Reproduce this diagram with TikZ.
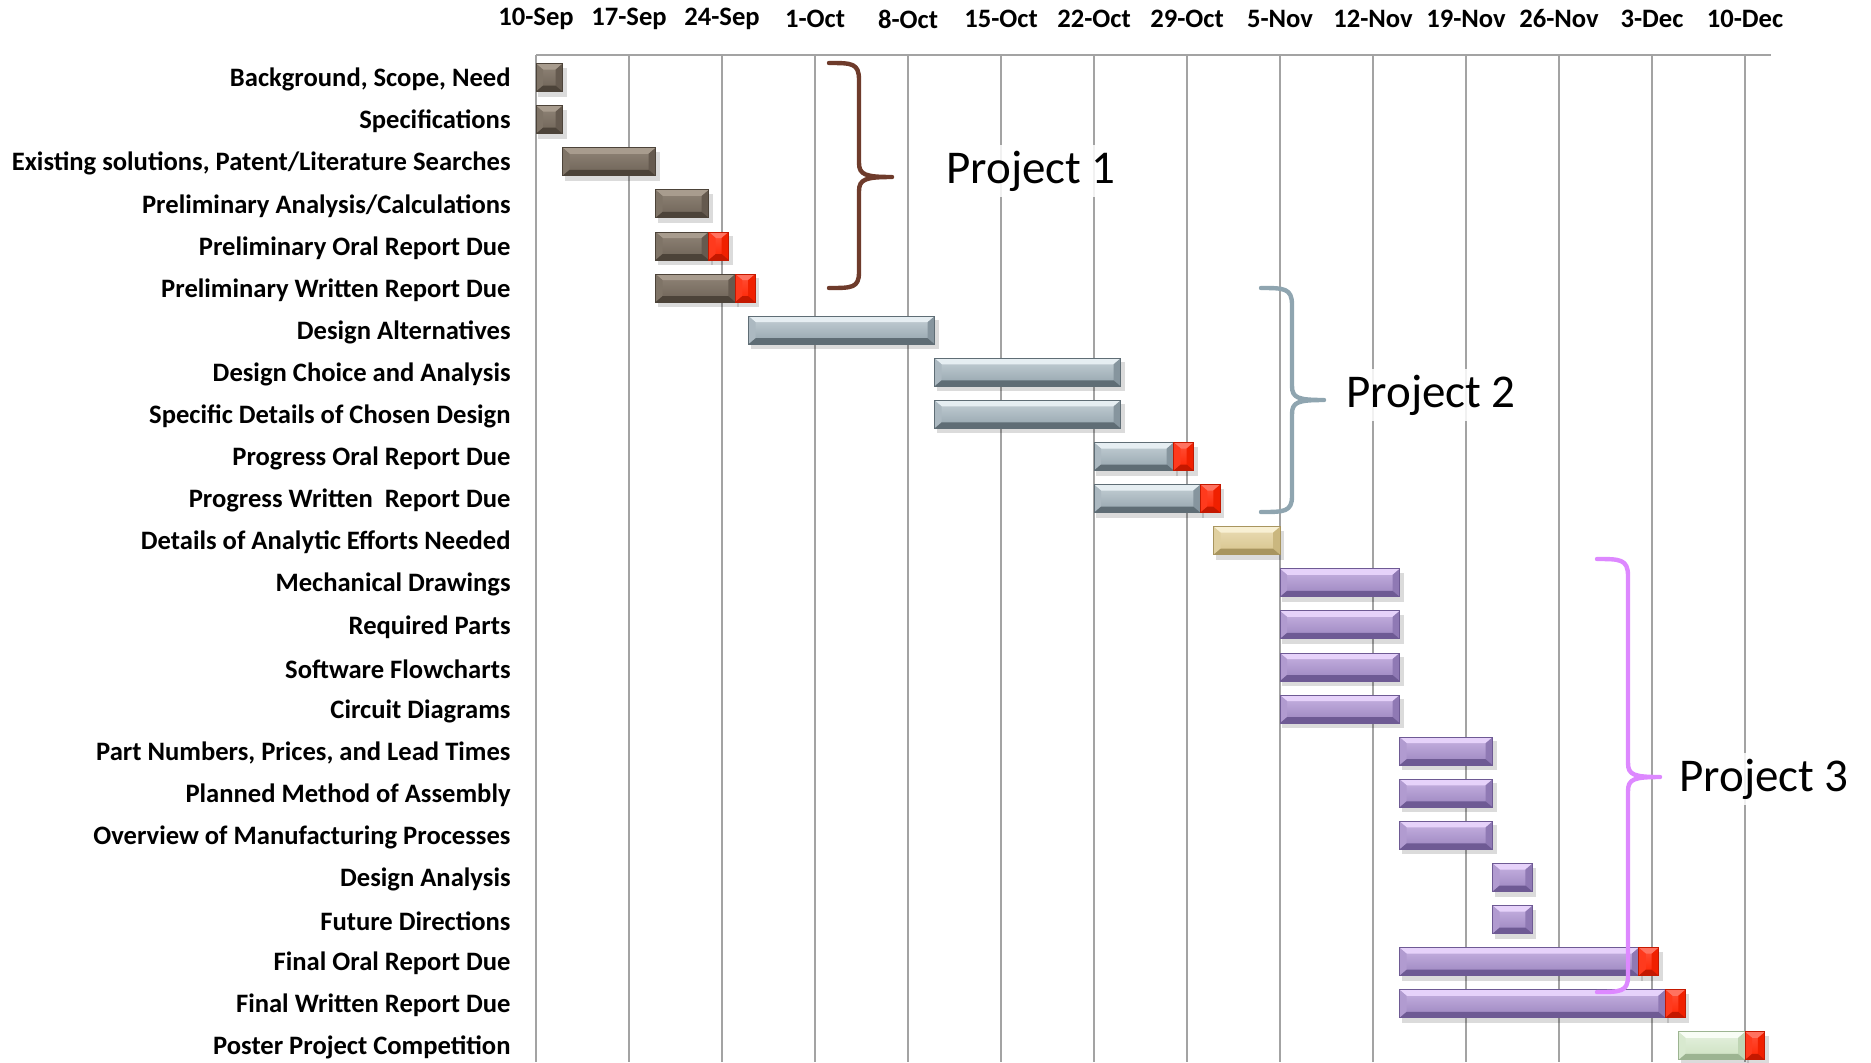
\documentclass[tikz,border=0pt]{standalone}
\usepackage{fontspec}
\setmainfont{Carlito}
\definecolor{gridc}{HTML}{A3A3A3}
\definecolor{brl}{HTML}{A89C8E}\definecolor{brb}{HTML}{6D6256}\definecolor{brd}{HTML}{4C4339}
\definecolor{rdl}{HTML}{FF7260}\definecolor{rdb}{HTML}{FF2200}\definecolor{rdd}{HTML}{C41800}
\definecolor{gbl}{HTML}{E6EEF2}\definecolor{gbb}{HTML}{93A3AC}\definecolor{gbd}{HTML}{5F6D75}
\definecolor{tnl}{HTML}{F8F0D4}\definecolor{tnb}{HTML}{D6C28A}\definecolor{tnd}{HTML}{A8955F}
\definecolor{pul}{HTML}{E6D2FA}\definecolor{pub}{HTML}{9A84BE}\definecolor{pud}{HTML}{6E5A94}
\definecolor{grl}{HTML}{F8FDF5}\definecolor{grb}{HTML}{CBE0BF}\definecolor{grd}{HTML}{9CB491}
\definecolor{br1}{HTML}{6E3B2B}\definecolor{br2}{HTML}{8FA5B0}\definecolor{br3}{HTML}{DD88FF}
\tikzset{
  rowlabel/.style={anchor=east,font=\bfseries\fontsize{13.3}{15}\selectfont,inner sep=0pt},
  datelabel/.style={anchor=center,font=\bfseries\fontsize{13.3}{15}\selectfont,inner sep=0pt},
  projlabel/.style={anchor=west,font=\fontsize{23.5}{26}\selectfont,fill=white,fill opacity=0.85,text opacity=1,inner sep=3pt},
  gridline/.style={draw=gridc,line width=1.2pt},
  bracepath/.style={line width=2.2pt,line cap=round,line join=round},
}
\newcommand{\gbar}[6]{%
 \pgfmathsetmacro\gxa{536+13.286*(#1)}%
 \pgfmathsetmacro\gxb{536+13.286*(#2)}%
 \pgfmathsetmacro\gyt{77.6+42.1*(#3)-14}%
 \pgfmathsetmacro\gyb{77.6+42.1*(#3)+14}%
 \fill[black,opacity=0.14] (\gxa+2,\gyt+4) rectangle (\gxb+4,\gyb+5);
 \shade[top color=#4!60!#5,bottom color=#5] (\gxa,\gyt) rectangle (\gxb,\gyb);
 \fill[#4] (\gxa,\gyt) -- (\gxb,\gyt) -- (\gxb-7,\gyt+6) -- (\gxa+7,\gyt+6) -- cycle;
 \fill[#5!70!#4] (\gxa,\gyt) -- (\gxa+7,\gyt+6) -- (\gxa+7,\gyb-6) -- (\gxa,\gyb) -- cycle;
 \fill[#5!75!#6] (\gxb,\gyt) -- (\gxb-7,\gyt+6) -- (\gxb-7,\gyb-6) -- (\gxb,\gyb) -- cycle;
 \fill[#6] (\gxa,\gyb) -- (\gxb,\gyb) -- (\gxb-7,\gyb-6) -- (\gxa+7,\gyb-6) -- cycle;
 \draw[#6,line width=0.5pt] (\gxa,\gyt) rectangle (\gxb,\gyb);
}
\begin{document}
\begin{tikzpicture}[x=0.5pt,y=-0.5pt]
\useasboundingbox (0,0) rectangle (1871,1062);
% grid
\draw[gridline] (536,55) -- (1771,55);
\foreach \i/\d in {0/10-Sep,1/17-Sep,2/24-Sep,3/1-Oct,4/8-Oct,5/15-Oct,6/22-Oct,7/29-Oct,8/5-Nov,9/12-Nov,10/19-Nov,11/26-Nov,12/3-Dec,13/10-Dec}{
  \draw[gridline] ({536+93*\i},55) -- ({536+93*\i},1062);
  \node[datelabel] (d\i) at ({536+93*\i},19) {\d};
}
% row labels
\foreach \r/\t in {0/{Background, Scope, Need},1/{Specifications},2/{Existing solutions, Patent/Literature Searches},3/{Preliminary Analysis/Calculations},4/{Preliminary Oral Report Due},5/{Preliminary Written Report Due},6/{Design Alternatives},7/{Design Choice and Analysis},8/{Specific Details of Chosen Design},9/{Progress Oral Report Due},10/{Progress Written\ \ Report Due},11/{Details of Analytic Efforts Needed},12/{Mechanical Drawings},13/{Required Parts},14/{Software Flowcharts},15/{Circuit Diagrams},16/{Part Numbers, Prices, and Lead Times},17/{Planned Method of Assembly},18/{Overview of Manufacturing Processes},19/{Design Analysis},20/{Future Directions},21/{Final Oral Report Due},22/{Final Written Report Due},23/{Poster Project Competition}}{
  \node[rowlabel] (r\r) at (511,{79.5+42.1*\r}) {\t};
}
% bars
\gbar{0}{2}{0}{brl}{brb}{brd}
\gbar{0}{2}{1}{brl}{brb}{brd}
\gbar{2}{9}{2}{brl}{brb}{brd}
\gbar{9}{13}{3}{brl}{brb}{brd}
\gbar{9}{13}{4}{brl}{brb}{brd}\gbar{13}{14.5}{4}{rdl}{rdb}{rdd}
\gbar{9}{15}{5}{brl}{brb}{brd}\gbar{15}{16.5}{5}{rdl}{rdb}{rdd}
\gbar{16}{30}{6}{gbl}{gbb}{gbd}
\gbar{30}{44}{7}{gbl}{gbb}{gbd}
\gbar{30}{44}{8}{gbl}{gbb}{gbd}
\gbar{42}{48}{9}{gbl}{gbb}{gbd}\gbar{48}{49.5}{9}{rdl}{rdb}{rdd}
\gbar{42}{50}{10}{gbl}{gbb}{gbd}\gbar{50}{51.5}{10}{rdl}{rdb}{rdd}
\gbar{51}{56}{11}{tnl}{tnb}{tnd}
\foreach \r in {12,13,14,15}{\gbar{56}{65}{\r}{pul}{pub}{pud}}
\foreach \r in {16,17,18}{\gbar{65}{72}{\r}{pul}{pub}{pud}}
\foreach \r in {19,20}{\gbar{72}{75}{\r}{pul}{pub}{pud}}
\gbar{65}{83}{21}{pul}{pub}{pud}\gbar{83}{84.5}{21}{rdl}{rdb}{rdd}
\gbar{65}{85}{22}{pul}{pub}{pud}\gbar{85}{86.5}{22}{rdl}{rdb}{rdd}
\gbar{86}{91}{23}{grl}{grb}{grd}\gbar{91}{92.5}{23}{rdl}{rdb}{rdd}
% braces
\coordinate (b1t) at (829,63); \coordinate (b1p) at (892,177); \coordinate (b1b) at (829,288);
\draw[bracepath,br1] (b1t) .. controls (852,63) and (859,63) .. (859,80) -- (859,163)
  .. controls (859,175) and (866,177) .. (b1p) .. controls (866,177) and (859,179) .. (859,191)
  -- (859,272) .. controls (859,288) and (852,288) .. (b1b);
\coordinate (b2t) at (1261,288); \coordinate (b2p) at (1324,400); \coordinate (b2b) at (1261,512);
\draw[bracepath,br2] (b2t) .. controls (1284,288) and (1292,288) .. (1292,305) -- (1292,386)
  .. controls (1292,398) and (1298,400) .. (b2p) .. controls (1298,400) and (1292,402) .. (1292,414)
  -- (1292,496) .. controls (1292,512) and (1284,512) .. (b2b);
\coordinate (b3t) at (1597,559); \coordinate (b3p) at (1660,777); \coordinate (b3b) at (1597,992);
\draw[bracepath,br3] (b3t) .. controls (1620,559) and (1628,559) .. (1628,576) -- (1628,763)
  .. controls (1628,775) and (1634,777) .. (b3p) .. controls (1634,777) and (1628,779) .. (1628,791)
  -- (1628,976) .. controls (1628,992) and (1620,992) .. (b3b);
% project labels
\node[projlabel] (p1) at (940,171) {Project 1};
\node[projlabel] (p2) at (1340,395) {Project 2};
\node[projlabel] (p3) at (1673,779) {Project 3};
\end{tikzpicture}
\end{document}
